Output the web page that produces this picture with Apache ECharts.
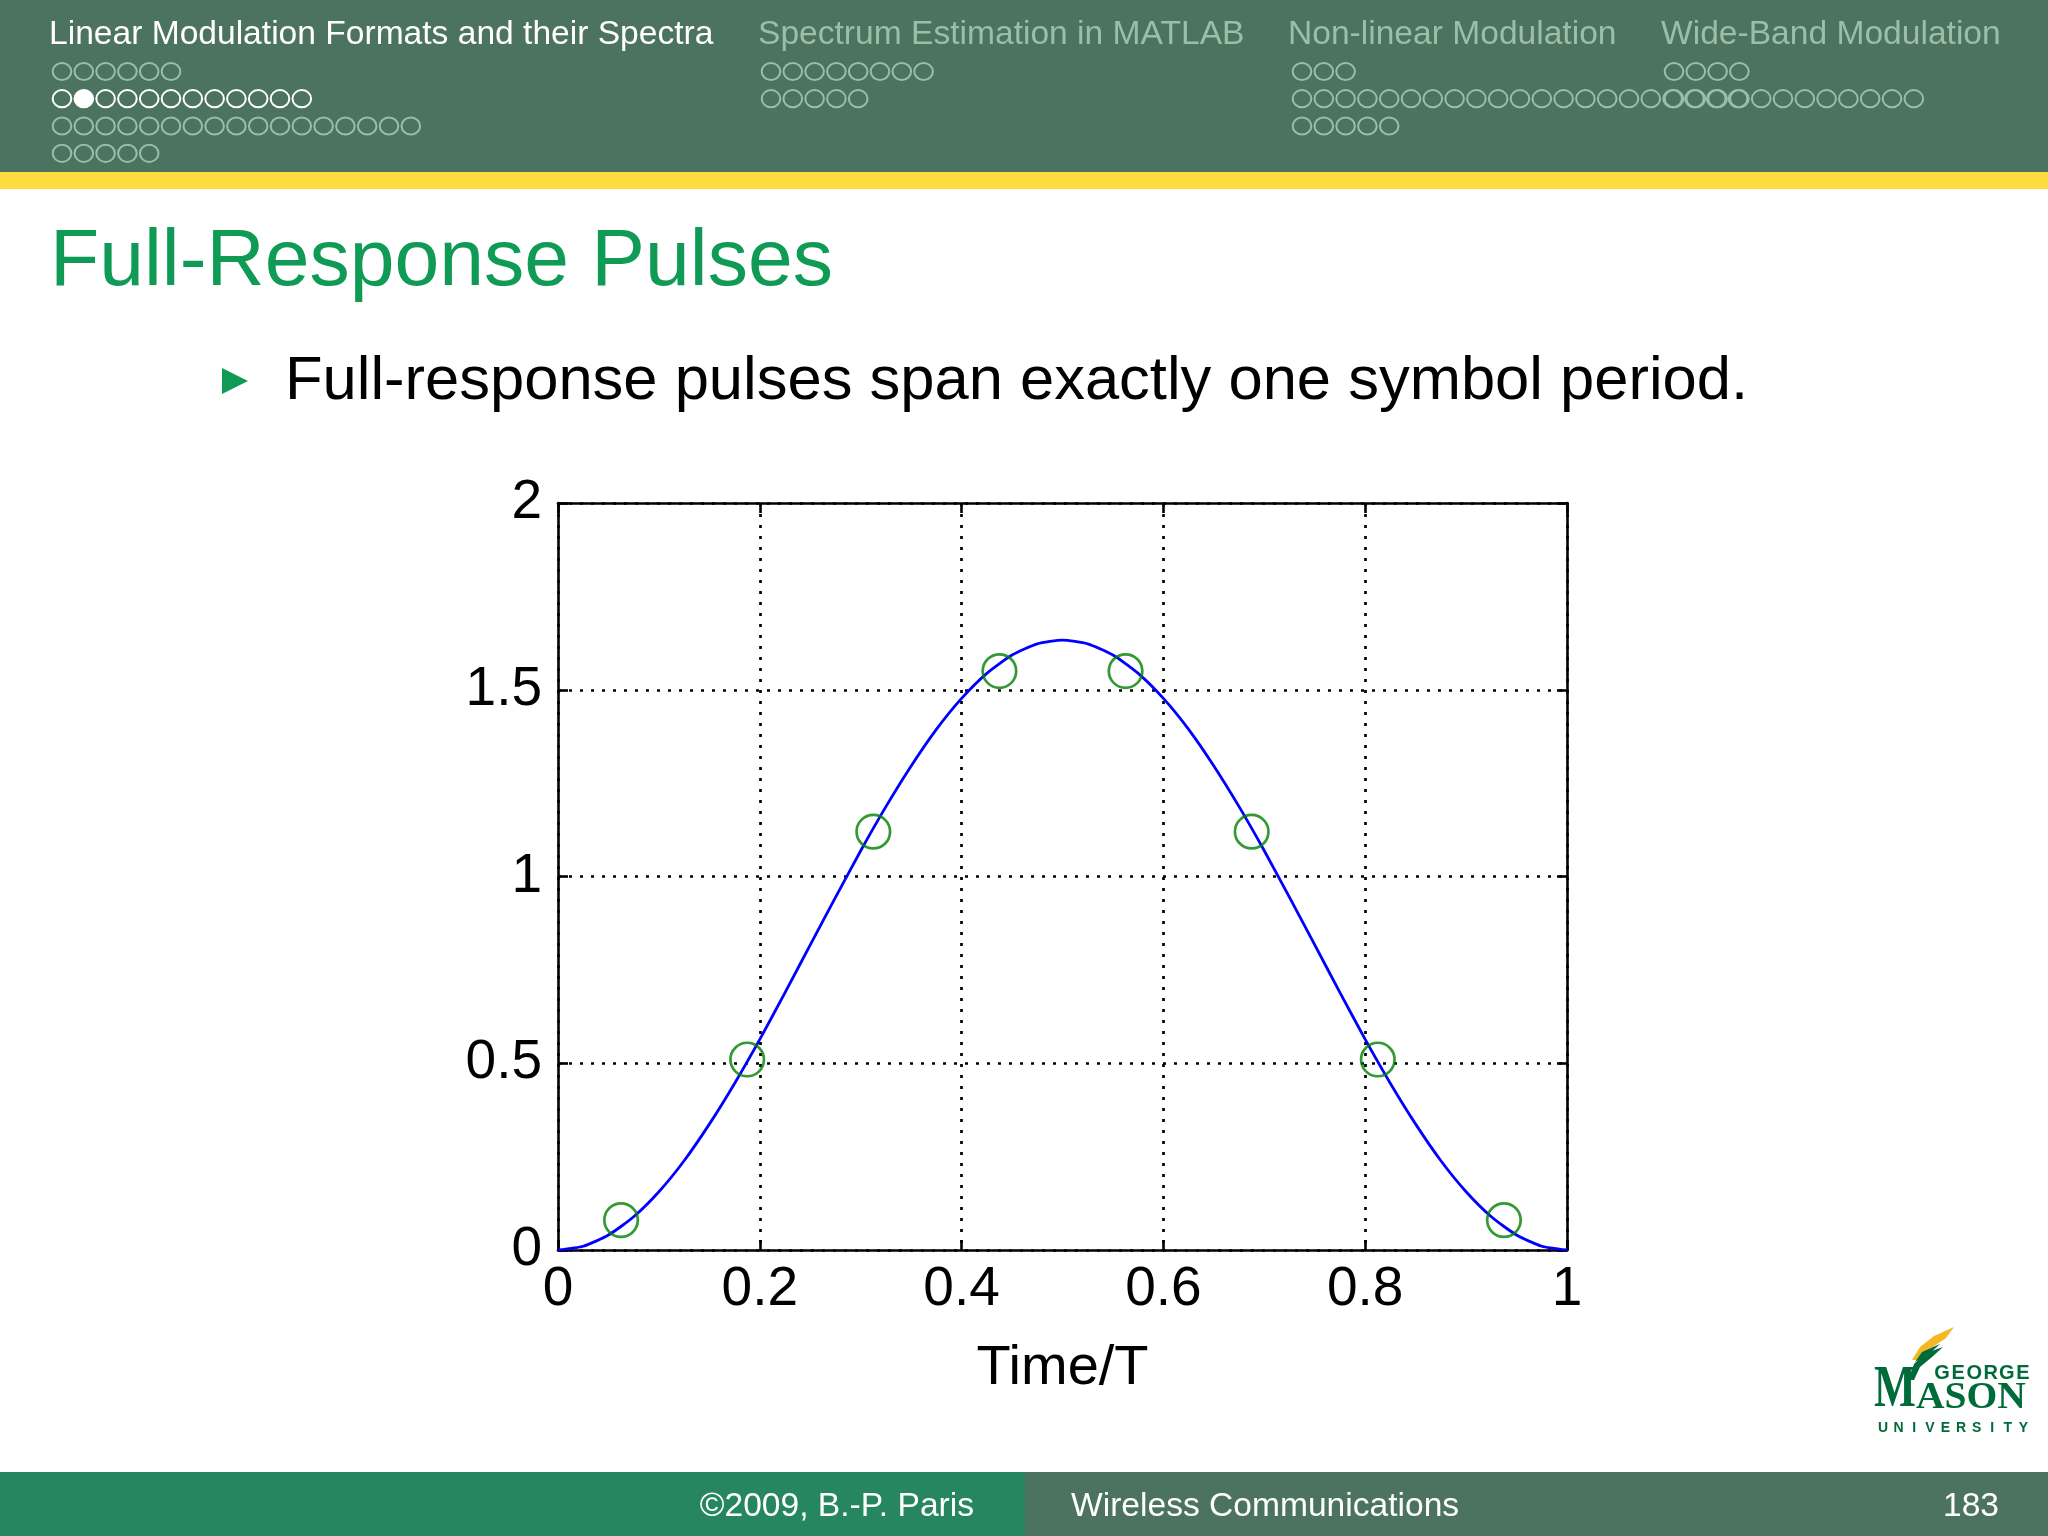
<!DOCTYPE html>
<html><head><meta charset="utf-8">
<script src="https://cdn.jsdelivr.net/npm/echarts@6/dist/echarts.min.js"></script>
<style>html,body{margin:0;padding:0;background:#fff}#c{width:2048px;height:1536px}</style>
</head><body><div id="c"></div>
<script>
// ---- data ----
const curveT = [0,0.025,0.05,0.075,0.1,0.125,0.15,0.175,0.2,0.225,0.25,0.275,0.3,0.325,0.35,0.375,0.4,0.425,0.45,0.475,0.5,
                0.525,0.55,0.575,0.6,0.625,0.65,0.675,0.7,0.725,0.75,0.775,0.8,0.825,0.85,0.875,0.9,0.925,0.95,0.975,1];
const curveY = [0,0.010,0.040,0.089,0.156,0.239,0.337,0.446,0.564,0.689,0.817,0.944,1.069,1.187,1.296,1.394,1.477,1.544,1.593,1.623,1.633,
                1.623,1.593,1.544,1.477,1.394,1.296,1.187,1.069,0.944,0.817,0.689,0.564,0.446,0.337,0.239,0.156,0.089,0.040,0.010,0];
const sampleT = [0.0625,0.1875,0.3125,0.4375,0.5625,0.6875,0.8125,0.9375];
const sampleY = [0.08,0.51,1.12,1.55,1.55,1.12,0.51,0.08];
const xAxisName = 'Time/T';

// ---- slide text ----
const sections = ['Linear Modulation Formats and their Spectra','Spectrum Estimation in MATLAB','Non-linear Modulation','Wide-Band Modulation'];
const navRows = [[6,12,17,5],[8,5],[3,21,5],[4,12]];
const slideTitle = 'Full-Response Pulses';
const bulletText = 'Full-response pulses span exactly one symbol period.';
const footerLeft = '\u00A92009, B.-P. Paris';
const footerMid = 'Wireless Communications';
const footerPage = '183';

const FONT = '"Liberation Sans", Arial, Helvetica, sans-serif';
const HEADER_BG = '#4b735f';
const FADED = '#9cbea6';
const GREEN = '#0f9a55';

function txt(x, y, text, size, fill, align, extra) {
  return Object.assign({
    type: 'text', x: x, y: y, silent: true,
    style: { text: text, fill: fill, font: size + 'px ' + FONT,
      textAlign: align || 'left', textVerticalAlign: 'middle',
      align: align || 'left', verticalAlign: 'middle' }
  }, extra || {});
}

const graphics = [];
// header
graphics.push({ type: 'rect', shape: { x: 0, y: 0, width: 2048, height: 172 }, style: { fill: HEADER_BG }, silent: true });
graphics.push({ type: 'rect', shape: { x: 0, y: 172, width: 2048, height: 17 }, style: { fill: '#ffdc3e' }, silent: true });
const secX = [49, 758, 1288, 1661];
const dotX0 = [62, 771, 1302, 1674];
const rowY = [71.5, 98.7, 126, 153.3];
sections.forEach((s, i) => {
  graphics.push(txt(secX[i], 35, s, 33.6, i === 0 ? '#ffffff' : FADED, 'left'));
  navRows[i].forEach((n, r) => {
    for (let k = 0; k < n; k++) {
      const current = (i === 0 && r === 1);
      const filled = current && k === 1;
      graphics.push({ type: 'ellipse', silent: true,
        shape: { cx: dotX0[i] + k * 21.8, cy: rowY[r], rx: 9.3, ry: 8.6 },
        style: { fill: filled ? '#ffffff' : 'none', stroke: current ? '#ffffff' : FADED, lineWidth: 2 } });
    }
  });
});
// title + bullet
graphics.push(txt(50, 263, slideTitle, 80.5, GREEN, 'left'));
graphics.push({ type: 'polygon', silent: true, shape: { points: [[222, 368], [248, 381], [222, 394]] }, style: { fill: GREEN } });
graphics.push(txt(285, 382, bulletText, 61.5, '#000000', 'left'));
// footer
graphics.push({ type: 'rect', shape: { x: 0, y: 1472, width: 1025, height: 64 }, style: { fill: '#25865f' }, silent: true });
graphics.push({ type: 'rect', shape: { x: 1025, y: 1472, width: 1023, height: 64 }, style: { fill: HEADER_BG }, silent: true });
graphics.push(txt(974, 1507, footerLeft, 33.6, '#ffffff', 'right'));
graphics.push(txt(1071, 1507, footerMid, 33.6, '#ffffff', 'left'));
graphics.push(txt(1999, 1507, footerPage, 33.6, '#ffffff', 'right'));
// logo
const LOGO_G = '#006b3a', LOGO_Y = '#f4b825';
graphics.push({ type: 'polygon', silent: true, shape: { points: [[1912,1360],[1920,1347],[1934,1336],[1954,1327],[1946,1338],[1930,1349],[1918,1360]] }, style: { fill: LOGO_Y } });
graphics.push({ type: 'polygon', silent: true, shape: { points: [[1908,1380],[1914,1364],[1926,1353],[1943,1347],[1932,1357],[1920,1367],[1914,1380]] }, style: { fill: LOGO_G } });
graphics.push({ type: 'polygon', silent: true, shape: { points: [[1915,1362],[1922,1352],[1940,1344],[1928,1355]] }, style: { fill: LOGO_G } });
graphics.push({ type: 'text', silent: true, x: 1874, y: 1390, scaleX: 0.74,
  style: { text: 'M', fill: LOGO_G, font: 'bold 60px "Liberation Serif", serif', textAlign: 'left', align: 'left', textVerticalAlign: 'middle', verticalAlign: 'middle' } });
graphics.push({ type: 'text', silent: true, x: 1916, y: 1398, scaleX: 1.04,
  style: { text: 'ASON', fill: LOGO_G, font: 'bold 38px "Liberation Serif", serif', textAlign: 'left', align: 'left', textVerticalAlign: 'middle', verticalAlign: 'middle' } });
'GEORGE'.split('').forEach((c, k) => {
  graphics.push({ type: 'text', silent: true, x: 1942 + k * 16.2, y: 1373,
    style: { text: c, fill: LOGO_G, font: 'bold 20px ' + FONT, textAlign: 'center', align: 'center', textVerticalAlign: 'middle', verticalAlign: 'middle' } });
});
'UNIVERSITY'.split('').forEach((c, k) => {
  graphics.push({ type: 'text', silent: true, x: 1883 + k * 15.6, y: 1428,
    style: { text: c, fill: LOGO_G, font: 'bold 14px ' + FONT, textAlign: 'center', align: 'center', textVerticalAlign: 'middle', verticalAlign: 'middle' } });
});

const axisLine = { show: true, onZero: false, lineStyle: { color: '#000', width: 2.6 } };
const axisTick = { show: true, inside: true, length: 10, lineStyle: { color: '#000', width: 2.6 } };
const labelStyle = { color: '#000', fontSize: 55, fontFamily: FONT };
const dotted = { show: true, lineStyle: { color: '#000', width: 2.7, type: [3, 8] } };

const chart = echarts.init(document.getElementById('c'), null, { renderer: 'canvas' });
chart.setOption({
  animation: false,
  backgroundColor: '#ffffff',
  graphic: { elements: graphics },
  grid: { left: 558, top: 503, width: 1009, height: 747, containLabel: false },
  xAxis: [
    { type: 'value', min: 0, max: 1, interval: 0.2, position: 'bottom', axisLine: axisLine, axisTick: axisTick,
      axisLabel: Object.assign({ margin: 12 }, labelStyle), splitLine: dotted,
      name: xAxisName, nameLocation: 'middle', nameGap: 91, nameTextStyle: { color: '#000', fontSize: 56, fontFamily: FONT } },
    { type: 'value', min: 0, max: 1, interval: 0.2, position: 'top', axisLine: axisLine, axisTick: axisTick,
      axisLabel: { show: false }, splitLine: { show: false } }
  ],
  yAxis: [
    { type: 'value', min: 0, max: 2, interval: 0.5, position: 'left', axisLine: axisLine, axisTick: axisTick,
      axisLabel: Object.assign({ margin: 16 }, labelStyle), splitLine: dotted },
    { type: 'value', min: 0, max: 2, interval: 0.5, position: 'right', axisLine: axisLine, axisTick: axisTick,
      axisLabel: { show: false }, splitLine: { show: false } }
  ],
  series: [
    { type: 'line', data: curveT.map((t, i) => [t, curveY[i]]), showSymbol: false, smooth: 0.2,
      lineStyle: { color: '#0000ff', width: 2.8 }, z: 3, silent: true },
    { type: 'scatter', data: sampleT.map((t, i) => [t, sampleY[i]]), symbol: 'circle', symbolSize: 33.5,
      itemStyle: { color: 'rgba(0,0,0,0)', borderColor: '#008000', borderWidth: 2.7 }, z: 4, silent: true }
  ]
});
</script>
</body></html>
